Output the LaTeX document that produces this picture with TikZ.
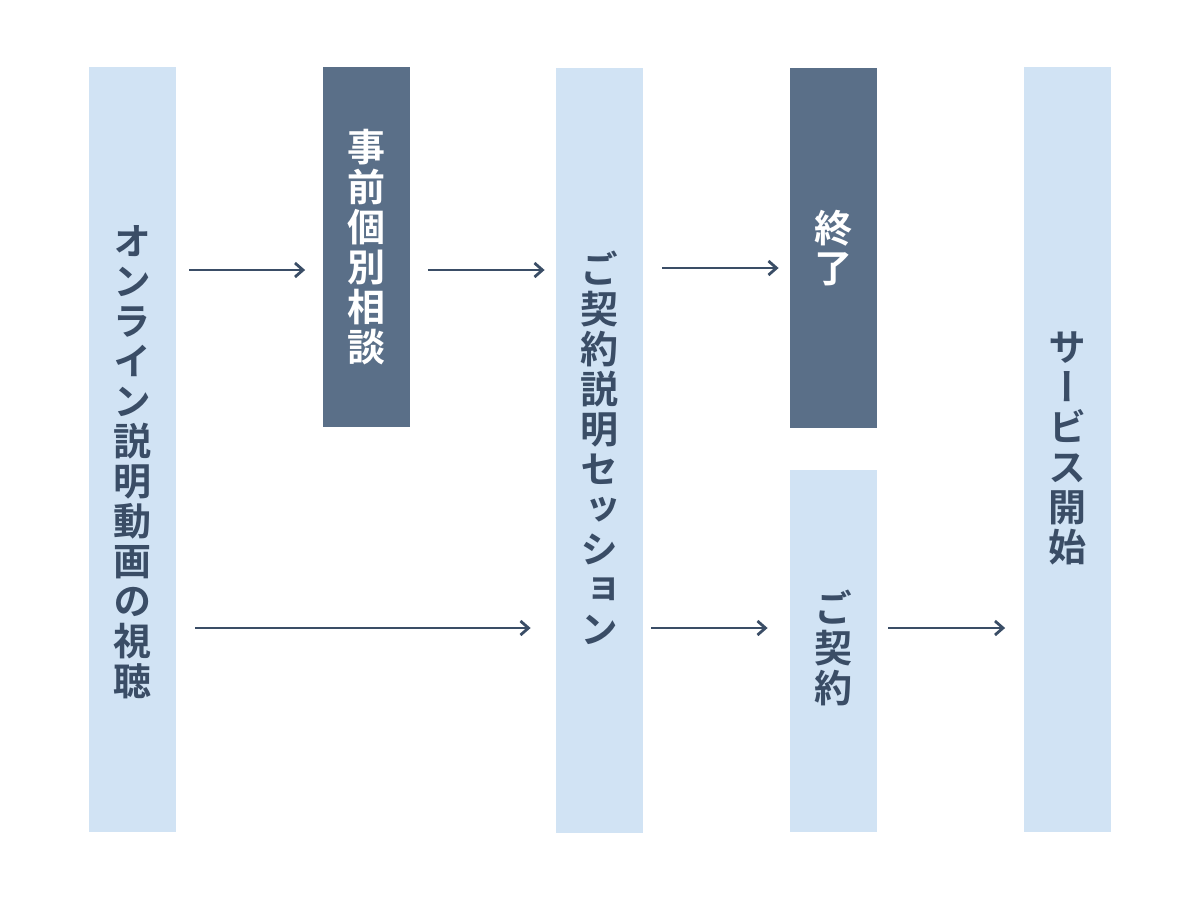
\documentclass[tikz,border=0pt]{standalone}
\usepackage{fontspec}
\newfontfamily\jp[RawFeature=+vert]{Noto Sans CJK JP Bold}
\usetikzlibrary{arrows.meta}
\definecolor{lightbox}{HTML}{D1E3F4}
\definecolor{darkbox}{HTML}{5A6F88}
\definecolor{navy}{HTML}{3A4D66}
\begin{document}
\begin{tikzpicture}[x=0.5pt,y=-0.5pt,
  box/.style={rectangle,inner sep=0pt,minimum width=43.5pt,draw=none},
  lbox/.style={box,fill=lightbox},
  dbox/.style={box,fill=darkbox},
  vtext/.style={inner sep=0pt,align=center,font=\jp\fontsize{19pt}{20pt}\selectfont},
  ltext/.style={vtext,text=navy},
  dtext/.style={vtext,text=white},
  arr/.style={draw=navy,line width=1.4pt,-{Straight Barb[length=4pt,width=7pt,line width=1.4pt]}}]
\useasboundingbox[fill=white] (0,0) rectangle (1200,900);
% boxes
\node[lbox,minimum height=382.5pt] (b1) at (132.5,449.5) {};
\node[dbox,minimum height=180pt] (b2) at (366,247) {};
\node[lbox,minimum height=382.5pt] (b3) at (599.5,450.5) {};
\node[dbox,minimum height=180pt] (b4) at (833.5,248) {};
\node[lbox,minimum height=181pt] (b5) at (833.5,651) {};
\node[lbox,minimum height=382.5pt] (b6) at (1067,449.5) {};
% texts
\node[ltext] (t1) at (132.5,462) {オ\\ン\\ラ\\イ\\ン\\説\\明\\動\\画\\の\\視\\聴};
\node[dtext] (t2) at (366,247) {事\\前\\個\\別\\相\\談};
\node[ltext] (t3) at (599.5,448) {ご\\契\\約\\説\\明\\セ\\ッ\\シ\\ョ\\ン};
\node[dtext] (t4) at (833.5,248) {終\\了};
\node[ltext] (t5) at (833.5,648) {ご\\契\\約};
\node[ltext] (t6) at (1067,448) {サ\\ー\\ビ\\ス\\開\\始};
% arrows
\draw[arr,shorten <=6.5pt,shorten >=8.5pt] (b1.east |- 0,270) -- (b2.west |- 0,270);
\draw[arr,shorten <=9pt,shorten >=5.5pt] (b2.east |- 0,270) -- (b3.west |- 0,270);
\draw[arr,shorten <=9.5pt,shorten >=5.5pt] (b3.east |- 0,268) -- (b4.west |- 0,268);
\draw[arr,shorten <=9.5pt,shorten >=12.5pt] (b1.east |- 0,628) -- (b3.west |- 0,628);
\draw[arr,shorten <=4pt,shorten >=11pt] (b3.east |- 0,628) -- (b5.west |- 0,628);
\draw[arr,shorten <=5.5pt,shorten >=9pt] (b5.east |- 0,628) -- (b6.west |- 0,628);
\end{tikzpicture}
\end{document}
